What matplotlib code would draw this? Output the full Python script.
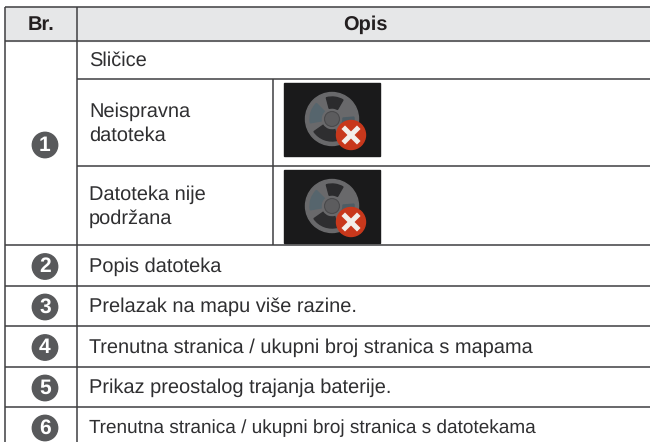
import matplotlib
matplotlib.use('Agg')
import matplotlib.pyplot as plt
import numpy as np
from matplotlib.patches import Circle, Rectangle, Wedge

plt.rcParams['font.family'] = ['Liberation Sans', 'DejaVu Sans']
plt.rcParams['text.hinting'] = 'none'
plt.rcParams['text.hinting_factor'] = 1

headers = ['Br.', 'Opis']
numbers = ['1', '2', '3', '4', '5', '6']
row_texts = ['Popis datoteka',
             'Prelazak na mapu više razine.',
             'Trenutna stranica / ukupni broj stranica s mapama',
             'Prikaz preostalog trajanja baterije.',
             'Trenutna stranica / ukupni broj stranica s datotekama']
row_ends = [222, 359, 538, 394, 545]
row_lines = [245, 286, 326, 367, 407]
sub_title = 'Sličice'
sub_texts = ['Neispravna\ndatoteka', 'Datoteka nije\npodržana']
sub_tops = [79, 166]
sub_bottoms = [166, 245]

fig = plt.figure(figsize=(6.5, 4.42), dpi=100)
ax = fig.add_axes([0, 0, 1, 1])
ax.set_xlim(0, 650)
ax.set_ylim(442, 0)
ax.axis('off')

LINE = '#3f3f41'
TEXT = '#2f2f31'
FS = 14.35


def hline(y, x0=5, x1=650):
    ax.plot([x0, x1], [y, y], color=LINE, lw=1.1, solid_capstyle='butt')


def vline(x, y0, y1):
    ax.plot([x, x], [y0, y1], color=LINE, lw=1.1, solid_capstyle='butt')


def badge(y, s):
    ax.add_patch(Circle((45, y), 12.7, color='#58595b', zorder=3))
    ax.text(45, y + 0.5, s, color='white', fontsize=15, fontweight='bold',
            ha='center', va='center', zorder=4)


def icon(x, y):
    # dark thumbnail with a film reel and a red cross
    ax.add_patch(Rectangle((x, y), 96, 73, color='#1a1a1b', zorder=2))
    cx, cy = x + 48, y + 36
    ax.add_patch(Circle((cx, cy), 26.5, color='#69696b', zorder=3))
    for a, w, c in ((75, 70, '#2e2e30'), (-5, 50, '#4d5c64'), (170, 55, '#56656d'), (255, 45, '#2b2b2d')):
        ax.add_patch(Wedge((cx, cy), 22, a, a + w, width=11, color=c, zorder=4))
    ax.add_patch(Circle((cx, cy), 7.5, color='#5c5c5e', ec='#4a4a4c', lw=0.8, zorder=5))
    ax.add_patch(Circle((x + 67, y + 52), 14.5, color='#c8381c', zorder=6))
    ax.plot([x + 61, x + 73], [y + 46, y + 58], color='#f2eeea', lw=3.6, zorder=7)
    ax.plot([x + 61, x + 73], [y + 58, y + 46], color='#f2eeea', lw=3.6, zorder=7)


def fit_text(t, end):
    # the source text is tracked unevenly, so pick the size that ends where it does
    r = fig.canvas.get_renderer()
    best, best_err = FS, 1e9
    for fs in np.arange(13.5, 15.5, 0.05):
        t.set_fontsize(fs)
        err = abs(t.get_window_extent(r).x1 - end)
        if err < best_err:
            best, best_err = fs, err
    t.set_fontsize(best)


ax.add_patch(Rectangle((5, 7), 645, 34, color='#e6e7e8', zorder=0))

for y in [7, 41, 79, 166] + row_lines:
    if y in (79, 166):
        hline(y, x0=77)
    else:
        hline(y)
vline(5, 7, 442)
vline(77, 7, 442)
for top, bottom in zip(sub_tops, sub_bottoms):
    vline(273, top, bottom)

ax.text(41, 24.5, headers[0], color='#231f20', fontsize=FS, fontweight='bold', ha='center', va='center')
ax.text(365, 24.5, headers[1], color='#231f20', fontsize=FS, fontweight='bold', ha='center', va='center')
ax.text(89, 61, sub_title, color=TEXT, fontsize=FS, va='center')
for s, top, bottom in zip(sub_texts, sub_tops, sub_bottoms):
    ax.text(89, (top + bottom) / 2 + 1, s, color=TEXT, fontsize=FS, va='center', linespacing=1.35)
    icon(284, top + 4)

badge(145, numbers[0])
row_bottoms = row_lines[1:] + [447]
for s, n, end, top, bottom in zip(row_texts, numbers[1:], row_ends, row_lines, row_bottoms):
    mid = (top + bottom) / 2
    t = ax.text(89, mid + 1, s, color=TEXT, fontsize=FS, va='center')
    fit_text(t, end)
    badge(mid + 1, n)

fig.savefig('out.png', dpi=100)
